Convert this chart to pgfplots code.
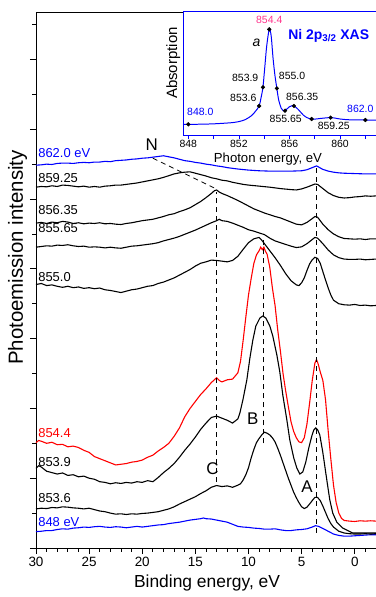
\documentclass[border=0pt]{standalone}
\usepackage{fontspec}
\setmainfont{Liberation Sans}
\usepackage{pgfplots}
\pgfplotsset{compat=1.18}
\usetikzlibrary{calc}
\definecolor{pinkred}{RGB}{255,51,140}
\newcommand{\fs}[1]{\fontsize{#1}{#1}\selectfont}
\begin{document}
\begin{tikzpicture}
\begin{axis}[name=main, at={(0,0)}, anchor=south west,
  scale only axis, width=340bp, height=536bp,
  x dir=reverse, xmin=-2, xmax=30, ymin=0, ymax=15.36,
  axis lines*=left, clip=false,
  xtick={0,5,...,30},
  minor xtick={-2,-1,1,2,3,4,6,7,8,9,11,12,13,14,16,17,18,19,21,22,23,24,26,27,28,29},
  ytick={0,2,...,14}, minor ytick={1,3,...,15}, yticklabels={},
  tick align=outside, major tick length=6bp, minor tick length=3.5bp,
  tick style={black, line width=0.8pt}, axis line style={line width=0.8pt},
  tick label style={font=\fs{13.5}}, /pgf/number format/assume math mode=true,
  xlabel={Binding energy, eV}, ylabel={Photoemission intensity},
  xlabel style={font=\fs{17.5}, at={(axis description cs:0.503,-0.065)}, anchor=center},
  ylabel style={font=\fs{20.5}, at={(axis description cs:-0.054,0.542)}, anchor=center},
  every axis plot/.append style={line width=1.1pt},
]
\draw[line width=0.8pt] (rel axis cs:0,1) -- (rel axis cs:1,1);
% 848 eV
\addplot[blue] coordinates {(30,0.47)(29.5,0.48)(29,0.50)(28.5,0.50)(28,0.53)(27.5,0.55)(27,0.54)(26.5,0.57)(26,0.58)(25.5,0.60)(25,0.59)(24.5,0.61)(24,0.62)(23.5,0.60)(23,0.59)(22.5,0.61)(22,0.60)(21.5,0.58)(21,0.60)(20.5,0.62)(20,0.60)(19.5,0.62)(19,0.64)(18.5,0.66)(18,0.67)(17.5,0.70)(17,0.72)(16.5,0.74)(16,0.77)(15.5,0.80)(15,0.82)(14.5,0.84)(14.25,0.86)(14,0.84)(13.5,0.83)(13,0.80)(12.5,0.77)(12,0.74)(11.5,0.68)(11,0.62)(10.5,0.60)(10,0.59)(9.5,0.57)(9,0.56)(8.5,0.54)(8,0.54)(7.5,0.55)(7,0.52)(6.5,0.50)(6,0.50)(5.5,0.52)(5,0.53)(4.5,0.55)(4,0.60)(3.7,0.64)(3.4,0.62)(3,0.56)(2.5,0.48)(2,0.40)(1.5,0.36)(1,0.34)(0.5,0.34)(0,0.35)(-0.5,0.36)(-1,0.37)(-1.5,0.38)(-2,0.38)};
% 853.6
\addplot[black] coordinates {(30,1.12)(29.5,1.14)(29,1.13)(28.5,1.16)(28,1.15)(27.5,1.18)(27,1.17)(26.5,1.15)(26,1.14)(25.5,1.12)(25,1.14)(24.5,1.10)(24,1.06)(23.5,1.04)(23,1.00)(22.5,0.97)(22,0.98)(21.5,0.96)(21,0.98)(20.5,0.97)(20,0.99)(19.5,1.00)(19,1.02)(18.5,1.04)(18,1.08)(17.5,1.12)(17,1.18)(16.5,1.26)(16,1.33)(15.5,1.40)(15,1.47)(14.5,1.56)(14,1.64)(13.5,1.74)(13,1.79)(12.5,1.76)(12,1.78)(11.5,1.74)(11,1.80)(10.75,1.84)(10.5,1.95)(10.25,2.10)(10,2.30)(9.75,2.58)(9.5,2.82)(9.25,3.02)(9,3.14)(8.75,3.24)(8.5,3.32)(8.25,3.29)(8,3.24)(7.75,3.16)(7.5,3.04)(7.25,2.86)(7,2.66)(6.75,2.44)(6.5,2.22)(6.25,2.00)(6,1.80)(5.75,1.60)(5.5,1.44)(5.25,1.30)(5,1.18)(4.75,1.13)(4.5,1.17)(4.25,1.26)(4,1.36)(3.75,1.45)(3.5,1.45)(3.25,1.36)(3,1.20)(2.75,1.02)(2.5,0.84)(2.25,0.70)(2,0.60)(1.5,0.48)(1,0.43)(0.5,0.41)(0,0.40)(-0.5,0.40)(-1,0.41)(-1.5,0.40)(-2,0.41)};
% 853.9
\addplot[black] coordinates {(30,2.28)(29.75,2.36)(29.5,2.32)(29,2.20)(28.5,2.16)(28,2.12)(27.5,2.15)(27,2.08)(26.5,2.10)(26,2.04)(25.5,2.06)(25,2.00)(24.5,1.97)(24,1.90)(23.5,1.88)(23,1.84)(22.5,1.87)(22,1.85)(21.5,1.88)(21,1.86)(20.5,1.90)(20,1.88)(19.5,1.93)(19,1.90)(18.5,2.02)(18,2.16)(17.5,2.28)(17,2.42)(16.5,2.60)(16,2.80)(15.5,2.98)(15,3.18)(14.5,3.40)(14,3.58)(13.5,3.74)(13,3.78)(12.5,3.72)(12,3.66)(11.5,3.58)(11,3.70)(10.81,3.87)(10.53,4.24)(10.16,4.81)(9.87,5.44)(9.59,5.96)(9.31,6.36)(8.93,6.59)(8.65,6.65)(8.37,6.59)(7.99,6.36)(7.71,6.07)(7.33,5.53)(7.05,5.04)(6.77,4.38)(6.39,3.67)(6.11,3.09)(5.74,2.58)(5.45,2.29)(5.17,2.12)(4.89,2.18)(4.61,2.46)(4.33,2.86)(4.04,3.21)(3.86,3.38)(3.67,3.44)(3.48,3.38)(3.29,3.24)(3.01,2.75)(2.63,1.95)(2.35,1.38)(2.07,1.00)(1.69,0.74)(1.13,0.57)(0.19,0.43)(-1,0.43)(-2,0.43)};
% 854.4
\addplot[red] coordinates {(30,3.02)(29.75,3.08)(29.5,3.06)(29,3.00)(28.5,3.03)(28,2.96)(27.5,2.97)(27,2.90)(26.5,2.92)(26,2.88)(25.5,2.80)(25,2.74)(24.5,2.62)(24,2.56)(23.5,2.50)(23,2.44)(22.5,2.38)(22,2.40)(21.5,2.42)(21,2.46)(20.5,2.48)(20,2.52)(19.5,2.60)(19,2.66)(18.5,2.78)(18,2.88)(17.5,3.00)(17,3.20)(16.5,3.44)(16,3.76)(15.5,4.00)(15,4.20)(14.5,4.40)(14,4.56)(13.5,4.74)(13,4.88)(12.75,4.80)(12.5,4.76)(12,4.82)(11.5,4.84)(11,5.02)(10.75,5.35)(10.5,5.96)(10.25,6.62)(10,7.25)(9.75,7.72)(9.5,8.15)(9.25,8.40)(9,8.52)(8.85,8.62)(8.7,8.55)(8.55,8.62)(8.4,8.50)(8.25,8.42)(8,8.05)(7.75,7.45)(7.5,6.95)(7.25,6.25)(7,5.65)(6.75,5.00)(6.5,4.50)(6.25,4.05)(6,3.62)(5.75,3.34)(5.5,3.16)(5.25,3.04)(5,3.02)(4.75,3.16)(4.5,3.55)(4.25,4.15)(4,4.80)(3.75,5.30)(3.6,5.40)(3.45,5.28)(3.25,5.05)(3,4.80)(2.75,4.25)(2.5,3.35)(2.25,2.55)(2,1.80)(1.75,1.30)(1.5,1.00)(1.25,0.85)(1,0.79)(0.5,0.77)(0,0.76)(-0.5,0.78)(-1,0.77)(-1.5,0.78)(-2,0.77)};
% 855.0
\addplot[black] coordinates {(30,7.55)(29.5,7.58)(29,7.52)(28.5,7.54)(28,7.50)(27.5,7.47)(27,7.50)(26.5,7.46)(26,7.48)(25.5,7.44)(25,7.46)(24.5,7.43)(24,7.45)(23.5,7.40)(23,7.38)(22.5,7.35)(22,7.32)(21.5,7.36)(21,7.40)(20.5,7.42)(20,7.46)(19.5,7.50)(19,7.52)(18.5,7.58)(18,7.62)(17.5,7.68)(17,7.74)(16.5,7.82)(16,7.90)(15.5,7.98)(15,8.08)(14.5,8.16)(14,8.20)(13.5,8.25)(13,8.24)(12.5,8.22)(12,8.20)(11.5,8.24)(11,8.36)(10.5,8.56)(10,8.75)(9.5,8.86)(9,8.90)(8.75,8.82)(8.5,8.72)(8,8.52)(7.5,8.32)(7,8.10)(6.5,7.86)(6,7.66)(5.5,7.54)(5.25,7.52)(5,7.60)(4.75,7.74)(4.5,7.95)(4.25,8.14)(4,8.26)(3.75,8.33)(3.5,8.30)(3.25,8.16)(3,7.92)(2.75,7.68)(2.5,7.45)(2.25,7.25)(2,7.10)(1.5,7.00)(1,6.97)(0.5,6.96)(0,6.98)(-0.5,6.95)(-1,6.96)(-1.5,6.94)(-2,6.95)};
% 855.65
\addplot[black] coordinates {(30,8.62)(29.5,8.64)(29,8.66)(28.5,8.65)(28,8.68)(27.5,8.67)(27,8.69)(26.5,8.66)(26,8.64)(25.5,8.65)(25,8.62)(24.5,8.63)(24,8.62)(23.5,8.60)(23,8.62)(22.5,8.60)(22,8.59)(21.5,8.62)(21,8.65)(20.5,8.66)(20,8.68)(19.5,8.70)(19,8.72)(18.5,8.75)(18,8.80)(17.5,8.84)(17,8.88)(16.5,8.93)(16,8.99)(15.5,9.05)(15,9.11)(14.5,9.18)(14,9.25)(13.5,9.32)(13,9.38)(12.75,9.42)(12.5,9.38)(12,9.36)(11.5,9.31)(11,9.25)(10.5,9.19)(10,9.12)(9.5,9.08)(9,9.03)(8.5,8.98)(8,8.88)(7.5,8.80)(7,8.75)(6.5,8.70)(6,8.65)(5.5,8.61)(5,8.63)(4.5,8.72)(4,8.84)(3.75,8.90)(3.5,8.88)(3.25,8.80)(3,8.72)(2.5,8.54)(2,8.40)(1.5,8.32)(1,8.28)(0.5,8.27)(0,8.27)(-0.5,8.28)(-1,8.26)(-1.5,8.27)(-2,8.28)};
% 856.35
\addplot[black] coordinates {(30,9.31)(29.5,9.33)(29,9.30)(28.5,9.34)(28,9.32)(27.5,9.36)(27,9.34)(26.5,9.30)(26,9.32)(25.5,9.29)(25,9.31)(24.5,9.30)(24,9.32)(23.5,9.29)(23,9.30)(22.5,9.28)(22,9.27)(21.5,9.30)(21,9.32)(20.5,9.35)(20,9.38)(19.5,9.40)(19,9.42)(18.5,9.46)(18,9.50)(17.5,9.55)(17,9.58)(16.5,9.64)(16,9.69)(15.5,9.75)(15,9.84)(14.5,9.93)(14,10.04)(13.5,10.16)(13.2,10.24)(13,10.26)(12.75,10.20)(12.5,10.16)(12,10.10)(11.5,10.03)(11,9.96)(10.5,9.88)(10,9.80)(9.5,9.72)(9,9.66)(8.5,9.60)(8,9.55)(7.5,9.50)(7,9.46)(6.5,9.40)(6,9.34)(5.5,9.28)(5,9.26)(4.5,9.33)(4,9.44)(3.75,9.50)(3.5,9.48)(3.25,9.38)(3,9.28)(2.5,9.12)(2,9.00)(1.5,8.92)(1,8.87)(0.5,8.86)(0,8.85)(-0.5,8.86)(-1,8.84)(-1.5,8.86)(-2,8.86)};
% 859.25
\addplot[black] coordinates {(30,10.34)(29.5,10.36)(29,10.35)(28.5,10.38)(28,10.36)(27.5,10.40)(27,10.39)(26.5,10.37)(26,10.35)(25.5,10.37)(25,10.34)(24.5,10.36)(24,10.34)(23.5,10.37)(23,10.38)(22.5,10.40)(22,10.40)(21.5,10.42)(21,10.44)(20.5,10.46)(20,10.49)(19.5,10.52)(19,10.55)(18.5,10.58)(18,10.62)(17.5,10.67)(17,10.72)(16.5,10.75)(16,10.77)(15.5,10.78)(15,10.74)(14.5,10.70)(14,10.66)(13.5,10.61)(13,10.58)(12.5,10.54)(12,10.52)(11.5,10.48)(11,10.45)(10.5,10.42)(10,10.40)(9,10.37)(8,10.34)(7,10.30)(6,10.27)(5.5,10.26)(5,10.29)(4.5,10.34)(4,10.40)(3.75,10.43)(3.5,10.42)(3.25,10.36)(3,10.30)(2.5,10.18)(2,10.10)(1.5,10.05)(1,10.03)(0.5,10.04)(0,10.06)(-0.5,10.07)(-1,10.09)(-1.5,10.08)(-2,10.09)};
% 862.0 eV
\addplot[blue] coordinates {(30,10.97)(29.5,10.98)(29,11.00)(28.5,10.99)(28,11.02)(27.5,11.03)(27,11.03)(26.5,11.02)(26,11.04)(25.5,11.05)(25,11.04)(24.5,11.06)(24,11.06)(23.5,11.08)(23,11.07)(22.5,11.10)(22,11.11)(21.5,11.12)(21,11.14)(20.5,11.15)(20,11.17)(19.5,11.18)(19,11.20)(18.5,11.22)(18,11.24)(17.5,11.21)(17,11.18)(16.5,11.14)(16,11.10)(15.5,11.08)(15,11.05)(14.5,11.03)(14,11.00)(13.5,10.98)(13,10.95)(12.5,10.93)(12,10.90)(11,10.86)(10,10.83)(9,10.81)(8,10.80)(7,10.80)(6,10.80)(5,10.81)(4.5,10.84)(4,10.90)(3.6,10.95)(3.3,10.90)(3,10.85)(2.5,10.80)(2,10.77)(1.5,10.75)(1,10.74)(0,10.73)(-1,10.72)(-2,10.72)};
% dashed guide lines
\addplot[black, line width=0.8pt, dash pattern=on 5bp off 4bp] coordinates {(13.0,1.89)(13.0,10.2)};
\addplot[black, line width=0.8pt, dash pattern=on 5bp off 4bp] coordinates {(8.6,3.0)(8.6,8.85)};
\addplot[black, line width=0.8pt, dash pattern=on 5bp off 4bp] coordinates {(3.6,0.43)(3.6,10.9)};
\addplot[black, line width=0.8pt, dash pattern=on 5bp off 4bp] coordinates {(19.0,11.17)(13.1,10.3)};
% letters
\node[font=\fs{17}] at (axis cs:19.1,11.55) {N};
\node[font=\fs{17}] at (axis cs:13.4,2.26) {C};
\node[font=\fs{17}] at (axis cs:9.6,3.72) {B};
\node[font=\fs{17}] at (axis cs:4.5,1.75) {A};
% curve labels
\node[font=\fs{13}, anchor=west, text=blue, inner sep=0pt] at (axis cs:29.8,11.32) {862.0 eV};
\node[font=\fs{13}, anchor=west, inner sep=0pt] at (axis cs:29.8,10.6) {859.25};
\node[font=\fs{13}, anchor=west, inner sep=0pt] at (axis cs:29.8,9.68) {856.35};
\node[font=\fs{13}, anchor=west, inner sep=0pt] at (axis cs:29.8,9.17) {855.65};
\node[font=\fs{13}, anchor=west, inner sep=0pt] at (axis cs:29.8,7.77) {855.0};
\node[font=\fs{13}, anchor=west, text=red, inner sep=0pt] at (axis cs:29.8,3.30) {854.4};
\node[font=\fs{13}, anchor=west, inner sep=0pt] at (axis cs:29.8,2.46) {853.9};
\node[font=\fs{13}, anchor=west, inner sep=0pt] at (axis cs:29.8,1.42) {853.6};
\node[font=\fs{13}, anchor=west, text=blue, inner sep=0pt] at (axis cs:29.8,0.745) {848 eV};
\end{axis}

\begin{axis}[name=inset, at={($(main.south west)+(147bp,413bp)$)}, anchor=south west,
  scale only axis, width=193bp, height=124bp,
  xmin=847.58, xmax=862.84, ymin=0, ymax=1,
  axis lines*=left, clip=false,
  axis background/.style={fill=white},
  axis line style={blue, line width=0.8pt},
  xtick={848,852,856,860}, minor xtick={850,854,858,862},
  ytick=\empty,
  tick align=outside, major tick length=4bp, minor tick length=4bp,
  tick style={blue, line width=0.8pt},
  xticklabel style={font=\fs{10.5}, text=black, inner sep=1pt}, /pgf/number format/assume math mode=true,
  xticklabel={\pgfmathprintnumber[fixed,precision=0]{\tick}},
  xlabel={Photon energy, eV}, ylabel={Absorption},
  xlabel style={font=\fs{13.2}, at={(axis description cs:0.44,-0.197)}, anchor=center, inner sep=0pt},
  ylabel style={font=\fs{15}, at={(axis description cs:-0.05,0.58)}, anchor=center},
]
\draw[blue, line width=0.8pt] (rel axis cs:0,1) -- (rel axis cs:1,1);
\addplot[blue, line width=1pt, smooth, tension=0.5] coordinates {(847.58,0.085)(848.0,0.086)(849.0,0.087)(850.0,0.090)(851.0,0.096)(851.5,0.100)(852.0,0.108)(852.5,0.124)(853.0,0.156)(853.3,0.19)(853.6,0.234)(853.75,0.30)(853.9,0.385)(854.05,0.55)(854.2,0.72)(854.4,0.852)(854.55,0.80)(854.7,0.62)(854.85,0.48)(855.0,0.376)(855.15,0.28)(855.35,0.215)(855.5,0.197)(855.65,0.196)(855.8,0.21)(856.0,0.228)(856.2,0.236)(856.35,0.234)(856.6,0.215)(856.85,0.188)(857.1,0.160)(857.35,0.142)(857.55,0.133)(857.75,0.129)(858.0,0.128)(858.5,0.134)(859.0,0.139)(859.25,0.140)(859.5,0.138)(860.0,0.129)(860.5,0.124)(861.0,0.122)(862.0,0.121)(862.84,0.120)};
\addplot[only marks, mark=*, mark size=1.9bp, black] coordinates {(848.0,0.086)(853.6,0.234)(853.9,0.385)(854.4,0.852)(855.0,0.376)(855.65,0.196)(856.35,0.234)(857.75,0.129)(859.25,0.140)(862.0,0.121)};
\node[font=\fs{10.5}, text=pinkred] at (axis cs:854.4,0.93) {854.4};
\node[font=\fs{14}\itshape] at (axis cs:853.4,0.74) {a};
\node[font=\fs{14}\bfseries, text=blue] at (axis cs:859.1,0.80) {Ni 2p\textsubscript{3/2} XAS};
\node[font=\fs{10.5}] at (axis cs:852.5,0.46) {853.9};
\node[font=\fs{10.5}] at (axis cs:852.35,0.296) {853.6};
\node[font=\fs{10.5}] at (axis cs:856.2,0.476) {855.0};
\node[font=\fs{10.5}] at (axis cs:857.0,0.304) {856.35};
\node[font=\fs{10.5}] at (axis cs:855.7,0.127) {855.65};
\node[font=\fs{10.5}] at (axis cs:859.5,0.073) {859.25};
\node[font=\fs{10.5}, text=blue] at (axis cs:848.95,0.188) {848.0};
\node[font=\fs{10.5}, text=blue] at (axis cs:861.6,0.207) {862.0};
\end{axis}
\pgfresetboundingbox
\path ($(main.south west)+(-36bp,-49bp)$) rectangle ($(main.south west)+(340bp,548bp)$);
\end{tikzpicture}
\end{document}
